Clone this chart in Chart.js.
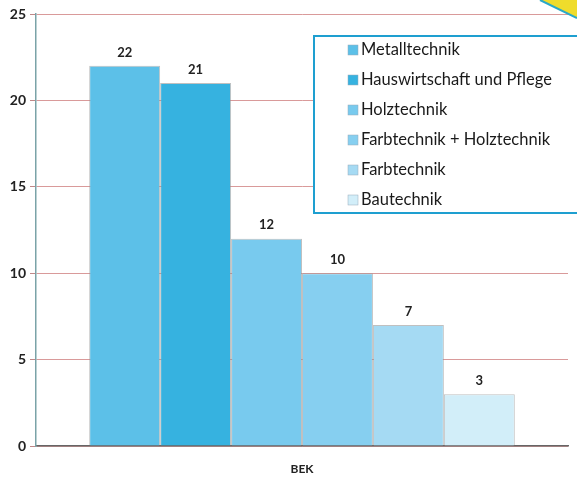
<!DOCTYPE html>
<html>
<head>
<meta charset="utf-8">
<script src="https://cdn.jsdelivr.net/npm/chart.js@4"></script>
<style>
  html, body { margin: 0; padding: 0; background: #fff; }
  #wrap { width: 577px; height: 477px; position: relative; }
</style>
</head>
<body>
<div id="wrap"><canvas id="barChart"></canvas></div>
<script>
// ===== DATA =====
const categories = ["BEK"];
const seriesNames = ["Metalltechnik", "Hauswirtschaft und Pflege", "Holztechnik",
    "Farbtechnik + Holztechnik", "Farbtechnik", "Bautechnik"];
const seriesValues = [22, 21, 12, 10, 7, 3];
const seriesColors = ["#5cc0e8", "#36b2e0", "#78caee", "#86cff0", "#a5daf3", "#d2eef9"];
const yTicks = [0, 5, 10, 15, 20, 25];

const FONT = "Lato, 'Open Sans', sans-serif";

// value labels above bars + legend box
const labelsPlugin = {
    id: "labelsPlugin",
    afterDatasetsDraw(chart) {
        const c = chart.ctx;
        c.save();
        c.font = "bold 13px " + FONT;
        c.fillStyle = "#222";
        c.textAlign = "center";
        c.textBaseline = "bottom";
        chart.data.datasets.forEach(function (ds, i) {
            const bar = chart.getDatasetMeta(i).data[0];
            c.fillText(ds.data[0], bar.x, bar.y - 7);
        });
        c.restore();
    },
    afterDraw(chart) {
        const c = chart.ctx;
        c.save();
        // legend box
        const bx = 314, by = 36, bw = 280, bh = 177;
        c.strokeStyle = "#1e9fd0";
        c.lineWidth = 2;
        c.fillStyle = "#fff";
        c.fillRect(bx, by, bw, bh);
        c.strokeRect(bx, by, bw, bh);
        c.font = "16.5px " + FONT;
        c.textBaseline = "middle";
        c.textAlign = "left";
        chart.data.datasets.forEach(function (ds, i) {
            const y = by + 14 + i * 30;
            c.fillStyle = ds.backgroundColor;
            c.fillRect(348, y - 5, 10, 10);
            c.strokeStyle = "#9ab";
            c.lineWidth = 0.5;
            c.strokeRect(348, y - 5, 10, 10);
            c.fillStyle = "#1a1a1a";
            c.fillText(ds.label, 361, y);
        });
        // scan corner artifact
        c.beginPath();
        c.moveTo(540, 0);
        c.lineTo(577, 0);
        c.lineTo(577, 18);
        c.closePath();
        c.fillStyle = "#efdc2c";
        c.fill();
        c.strokeStyle = "#2aa8c8";
        c.lineWidth = 2;
        c.beginPath();
        c.moveTo(540, 0);
        c.lineTo(577, 18);
        c.stroke();
        c.restore();
    }
};

document.addEventListener("DOMContentLoaded", function () {
    const ctx = document.getElementById("barChart").getContext("2d");
    new Chart(ctx, {
        type: "bar",
        data: {
            labels: categories,
            datasets: seriesNames.map(function (name, i) {
                return {
                    label: name,
                    data: [seriesValues[i]],
                    backgroundColor: seriesColors[i],
                    borderColor: "rgba(150,150,150,0.6)",
                    borderWidth: 1,
                    categoryPercentage: 0.8,
                    barPercentage: 1.0
                };
            })
        },
        plugins: [labelsPlugin],
        options: {
            responsive: true,
            maintainAspectRatio: false,
            animation: false,
            layout: { padding: { top: 14, right: 9, left: 0, bottom: 0 } },
            plugins: {
                legend: { display: false },
                tooltip: { enabled: false }
            },
            scales: {
                x: {
                    grid: { display: false },
                    border: { color: "#666", width: 1.5 },
                    ticks: { color: "#222", font: { family: FONT, size: 12, weight: "bold" }, padding: 8 },
                    afterFit: function (scale) { scale.height = 31; }
                },
                y: {
                    min: 0,
                    max: 25,
                    afterBuildTicks: function (scale) {
                        scale.ticks = yTicks.map(function (v) { return { value: v }; });
                    },
                    grid: {
                        color: "#d99a9a",
                        lineWidth: 1,
                        tickLength: 6,
                        tickColor: "#c08888"
                    },
                    border: { color: "#7aa3a8", width: 1.5, dash: [] },
                    ticks: { color: "#222", font: { family: FONT, size: 14, weight: "bold" }, padding: 4 },
                    afterFit: function (scale) { scale.width = 36; }
                }
            }
        }
    });
});
</script>
</body>
</html>
